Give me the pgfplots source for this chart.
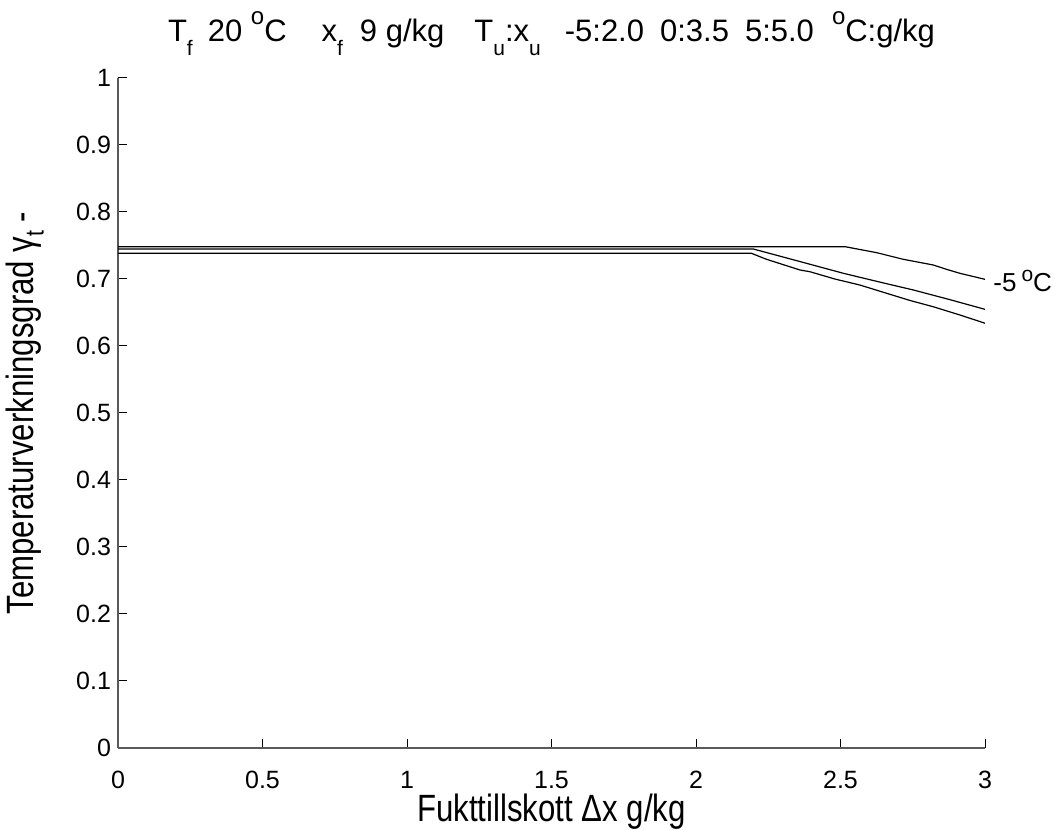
\documentclass[border=0pt]{standalone}
\usepackage{pgfplots}
\pgfplotsset{compat=1.18}
\usepackage{fontspec}
\setmainfont{Liberation Sans}
\newfontfamily\labfont{Liberation Sans}[FakeStretch=0.82]
\newcommand{\tfsz}{\fontsize{12.5pt}{15pt}\selectfont}
\newcommand{\titfsz}{\fontsize{15.5pt}{18pt}\selectfont}
\newcommand{\labfsz}{\labfont\fontsize{19pt}{22pt}\selectfont}
\newcommand{\sub}[1]{\raisebox{-7pt}{\fontsize{10.5pt}{12pt}\selectfont #1}}
\newcommand{\lsub}[1]{\raisebox{-5pt}{\fontsize{13pt}{15pt}\selectfont #1}}
\newcommand{\sups}[1]{\raisebox{8.5pt}{\fontsize{12pt}{14pt}\selectfont #1}}
\begin{document}
\begin{tikzpicture}[font=\tfsz]
\path[use as bounding box] (-59pt,-41pt) rectangle (468.5pt,374pt);
\begin{axis}[
  at={(0,0)}, anchor=south west,
  width=433.5pt, height=335pt, scale only axis,
  xmin=0, xmax=3, ymin=0, ymax=1,
  axis x line*=bottom, axis y line*=left,
  axis line style={-, line width=1pt, black!65},
  tick align=inside,
  major tick length=4.5pt,
  tick style={black, line width=0.5pt},
  xtick={0,0.5,1,1.5,2,2.5,3},
  ytick={0,0.1,0.2,0.3,0.4,0.5,0.6,0.7,0.8,0.9,1},
  /pgf/number format/assume math mode=true,
  tick label style={font=\tfsz},
  xticklabel style={anchor=base, yshift=-20pt},
  yticklabel style={anchor=east},
  clip=false,
  xlabel={Fukttillskott Δx g/kg},
  xlabel style={font=\labfsz, at={([yshift=-36.5pt]axis description cs:0.5,0)}, anchor=base},
  ylabel={Temperaturverkningsgrad γ\lsub{t} -},
  ylabel style={font=\labfsz, at={([xshift=-46.5pt]axis description cs:0,0.5)}, anchor=center},
]
\addplot[black, line width=0.6pt, mark=none] coordinates {
 (0,0.7482) (2.516,0.7482) (2.625,0.7393) (2.717,0.7294) (2.821,0.7209) (2.867,0.7144) (2.913,0.7085) (3,0.6995)
};
\addplot[black, line width=0.6pt, mark=none] coordinates {
 (0,0.7448) (2.198,0.7448) (2.36,0.726) (2.51,0.7085) (2.63,0.696) (2.752,0.6836) (2.88,0.669) (3,0.6547)
};
\addplot[black, line width=0.6pt, mark=none] coordinates {
 (0,0.7383) (2.192,0.7383) (2.244,0.7294) (2.36,0.7134) (2.394,0.7109) (2.48,0.700) (2.567,0.691) (2.66,0.6786) (2.74,0.668) (2.82,0.6587) (2.913,0.6463) (3,0.634)
};
\node[anchor=base west, font=\fontsize{13pt}{15pt}\selectfont, inner sep=0pt, xshift=4pt] at (axis cs:3,0.6806) {-5\hspace{2.5pt}\raisebox{5pt}{\fontsize{10.5pt}{12pt}\selectfont o}C};
\node[anchor=base, font=\titfsz, inner sep=0pt] at ([yshift=18pt]axis description cs:0.5,1) {T\sub{f}\hspace{7.5pt}20 \sups{o}C\hspace{17.5pt}x\sub{f}\hspace{8.5pt}9 g/kg\hspace{15pt}T\sub{u}:x\sub{u}\hspace{12pt}-5:2.0\hspace{8pt}0:3.5\hspace{8pt}5:5.0\hspace{9pt}\sups{o}C:g/kg};
\end{axis}
\end{tikzpicture}
\end{document}
